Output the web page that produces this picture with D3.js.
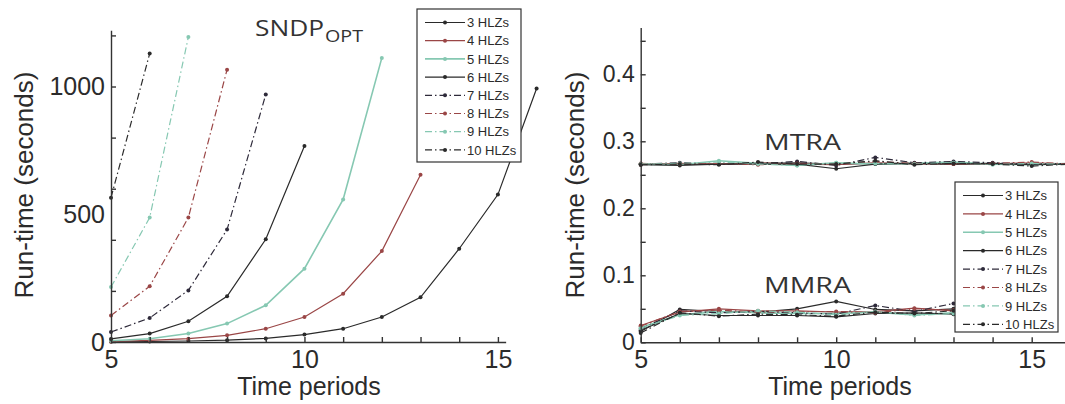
<!DOCTYPE html>
<html>
<head>
<meta charset="utf-8">
<script src="https://cdn.jsdelivr.net/npm/d3@7"></script>
<style>
    body { margin: 0; background: #fff; }
    svg { display: block; }
    text { font-family: 'Liberation Sans', Arial, sans-serif; fill: #2b2b2b; }
    .title { font-family: 'Open Sans', sans-serif; fill: #333; }
</style>
</head>
<body>
<div id="chartArea"></div>
<script>
// time periods (x) and series labels
var periods = [5, 6, 7, 8, 9, 10, 11, 12, 13, 14, 15, 16];
var hlzLabels = ['3 HLZs', '4 HLZs', '5 HLZs', '6 HLZs', '7 HLZs', '8 HLZs', '9 HLZs', '10 HLZs'];

// SNDP_OPT run-times (seconds), starting at period 5
var sndp3 = [1, 2, 4, 7, 14, 29, 52, 98, 175, 365, 577, 992];
var sndp4 = [2, 6, 13, 26, 52, 98, 189, 356, 655];
var sndp5 = [5, 13, 33, 72, 144, 287, 558, 1112];
var sndp6 = [12, 33, 81, 179, 402, 767];
var sndp7 = [39, 94, 202, 440, 969];
var sndp8 = [104, 218, 487, 1066];
var sndp9 = [215, 487, 1194];
var sndp10 = [565, 1129];

// MTRA run-times (seconds), periods 5..16
var mtra3 = [0.266, 0.266, 0.266, 0.267, 0.268, 0.266, 0.267, 0.267, 0.266, 0.267, 0.266, 0.267];
var mtra4 = [0.265, 0.267, 0.266, 0.268, 0.266, 0.265, 0.268, 0.266, 0.267, 0.266, 0.268, 0.266];
var mtra5 = [0.266, 0.265, 0.271, 0.267, 0.264, 0.268, 0.266, 0.267, 0.269, 0.266, 0.265, 0.267];
var mtra6 = [0.265, 0.264, 0.266, 0.266, 0.266, 0.259, 0.266, 0.267, 0.266, 0.267, 0.265, 0.266];
var mtra7 = [0.266, 0.268, 0.266, 0.266, 0.270, 0.264, 0.276, 0.268, 0.270, 0.268, 0.266, 0.267];
var mtra8 = [0.267, 0.266, 0.267, 0.265, 0.267, 0.266, 0.270, 0.267, 0.266, 0.267, 0.269, 0.266];
var mtra9 = [0.266, 0.267, 0.269, 0.266, 0.264, 0.268, 0.267, 0.266, 0.268, 0.265, 0.267, 0.265];
var mtra10 = [0.265, 0.266, 0.265, 0.269, 0.266, 0.266, 0.271, 0.265, 0.267, 0.266, 0.263, 0.266];

// MMRA run-times (seconds), periods 5..14
var mmra3 = [0.016, 0.049, 0.046, 0.045, 0.050, 0.061, 0.049, 0.047, 0.050, 0.048];
var mmra4 = [0.025, 0.045, 0.050, 0.047, 0.047, 0.045, 0.046, 0.051, 0.047, 0.046];
var mmra5 = [0.022, 0.041, 0.046, 0.044, 0.043, 0.043, 0.045, 0.041, 0.044, 0.045];
var mmra6 = [0.018, 0.043, 0.040, 0.040, 0.040, 0.038, 0.043, 0.044, 0.042, 0.044];
var mmra7 = [0.020, 0.047, 0.044, 0.046, 0.044, 0.042, 0.055, 0.046, 0.058, 0.050];
var mmra8 = [0.024, 0.046, 0.048, 0.045, 0.046, 0.046, 0.044, 0.050, 0.048, 0.047];
var mmra9 = [0.021, 0.040, 0.043, 0.047, 0.045, 0.041, 0.046, 0.040, 0.043, 0.044];
var mmra10 = [0.014, 0.044, 0.039, 0.042, 0.041, 0.039, 0.045, 0.043, 0.047, 0.045];

var leftTicksY = [0, 200, 400, 600, 800, 1000, 1200];
var leftLabelsY = [0, 500, 1000];
var rightTicksY = [0, 0.05, 0.1, 0.15, 0.2, 0.25, 0.3, 0.35, 0.4, 0.45];
var rightLabelsY = [0, 0.1, 0.2, 0.3, 0.4];
var xTicks = [5, 6, 7, 8, 9, 10, 11, 12, 13, 14, 15];
var xLabels = [5, 10, 15];

var colors = ['#2a2a2a', '#9a4646', '#86c8b2', '#2a2a2a', '#2e2a3a', '#9a4646', '#86c8b2', '#2a2a2a'];
var dashes = [null, null, null, null, '7,3,1.5,3', '7,3,1.5,3', '7,3,1.5,3', '7,3,1.5,3'];

var sndpSeries = [sndp3, sndp4, sndp5, sndp6, sndp7, sndp8, sndp9, sndp10];
var mtraSeries = [mtra3, mtra4, mtra5, mtra6, mtra7, mtra8, mtra9, mtra10];
var mmraSeries = [mmra3, mmra4, mmra5, mmra6, mmra7, mmra8, mmra9, mmra10];

var svg = d3.select('#chartArea').append('svg')
    .attr('width', 1065)
    .attr('height', 404);

function drawSeries(g, seriesList, x, y) {
    var line = d3.line()
        .x(function (d, i) { return x(periods[i]); })
        .y(function (d) { return y(d); });
    seriesList.forEach(function (vals, s) {
        g.append('path')
            .attr('d', line(vals))
            .attr('fill', 'none')
            .attr('stroke', colors[s])
            .attr('stroke-width', s == 2 ? 1.6 : 1.2)
            .attr('stroke-dasharray', dashes[s]);
        g.selectAll('.m' + s)
            .data(vals)
            .enter()
            .append('circle')
            .attr('cx', function (d, i) { return x(periods[i]); })
            .attr('cy', function (d) { return y(d); })
            .attr('r', 2)
            .attr('fill', colors[s]);
    });
}

function drawLegend(x0, y0, w, h, step) {
    var lg = svg.append('g');
    lg.append('rect')
        .attr('x', x0).attr('y', y0)
        .attr('width', w).attr('height', h)
        .attr('fill', '#fff')
        .attr('stroke', '#333')
        .attr('stroke-width', 1.2);
    hlzLabels.forEach(function (lab, s) {
        var yy = y0 + 13.5 + s * step;
        lg.append('line')
            .attr('x1', x0 + 8).attr('x2', x0 + 48)
            .attr('y1', yy).attr('y2', yy)
            .attr('stroke', colors[s])
            .attr('stroke-width', s == 2 ? 1.6 : 1.2)
            .attr('stroke-dasharray', dashes[s]);
        lg.append('circle')
            .attr('cx', x0 + 28).attr('cy', yy).attr('r', 2)
            .attr('fill', colors[s]);
        lg.append('text')
            .attr('x', x0 + 50).attr('y', yy)
            .attr('dy', '0.36em')
            .style('font-size', '13px')
            .text(lab);
    });
}

function drawAxes(x, y, xEnd, yTicks, yLabels, yFmt, yFont, xFont) {
    var xAxisScale = d3.scaleLinear().domain([5, xEnd]).range([x(5), x(xEnd)]);
    var base = y(0);
    svg.append('g')
        .attr('transform', 'translate(0,' + base + ')')
        .call(d3.axisBottom(xAxisScale).tickValues(xTicks).tickSize(-5).tickSizeOuter(0).tickFormat(''))
        .call(function (g) { g.selectAll('path, line').attr('stroke', '#333').attr('stroke-width', 1.4); });
    svg.append('g')
        .attr('transform', 'translate(0,' + base + ')')
        .call(d3.axisBottom(x).tickValues(xLabels).tickSize(0).tickPadding(8))
        .call(function (g) {
            g.select('.domain').remove();
            g.selectAll('text').style('font-size', xFont + 'px').attr('fill', '#2b2b2b');
        });
    svg.append('g')
        .attr('transform', 'translate(' + x(5) + ',0)')
        .call(d3.axisLeft(y).tickValues(yTicks).tickSize(-5).tickSizeOuter(0).tickFormat(''))
        .call(function (g) { g.selectAll('path, line').attr('stroke', '#333').attr('stroke-width', 1.4); });
    svg.append('g')
        .attr('transform', 'translate(' + (x(5) - 6) + ',0)')
        .call(d3.axisLeft(y).tickValues(yLabels).tickSize(0).tickPadding(0).tickFormat(yFmt))
        .call(function (g) {
            g.select('.domain').remove();
            g.selectAll('text').style('font-size', yFont + 'px').attr('fill', '#2b2b2b');
        });
}

// ---- left panel: SNDP_OPT
var xL = d3.scaleLinear().domain([5, 16]).range([111, 536.6]);
var yL = d3.scaleLinear().domain([0, 1220]).range([342, 30.3]);
var gL = svg.append('g');
drawSeries(gL, sndpSeries, xL, yL);
drawAxes(xL, yL, 15.2, leftTicksY, leftLabelsY, d3.format('d'), 25, 25);

svg.append('text').attr('class', 'title')
    .attr('x', 255).attr('y', 36)
    .attr('textLength', 69).attr('lengthAdjust', 'spacingAndGlyphs')
    .style('font-size', '22px')
    .text('SNDP');
svg.append('text').attr('class', 'title')
    .attr('x', 325).attr('y', 42)
    .attr('textLength', 38).attr('lengthAdjust', 'spacingAndGlyphs')
    .style('font-size', '17px')
    .text('OPT');

drawLegend(417, 9, 104, 153, 18.2);

// ---- right panel: MTRA / MMRA
var xR = d3.scaleLinear().domain([5, 16]).range([640.7, 1070.8]);
var yR = d3.scaleLinear().domain([0, 0.47]).range([342.3, 27.4]);
var gR = svg.append('g');
drawSeries(gR, mtraSeries, xR, yR);
drawSeries(gR, mmraSeries, xR, yR);
drawAxes(xR, yR, 16, rightTicksY, rightLabelsY, function (d) { return d == 0 ? '0' : d3.format('.1f')(d); }, 23, 25);

svg.append('text').attr('class', 'title')
    .attr('x', 764).attr('y', 150)
    .attr('textLength', 77).attr('lengthAdjust', 'spacingAndGlyphs')
    .style('font-size', '21px')
    .text('MTRA');
svg.append('text').attr('class', 'title')
    .attr('x', 764).attr('y', 293)
    .attr('textLength', 87).attr('lengthAdjust', 'spacingAndGlyphs')
    .style('font-size', '21px')
    .text('MMRA');

drawLegend(955, 182, 103, 150, 18.4);

// ---- axis titles
[[25, xL], [576, xR]].forEach(function (p) {
    svg.append('text')
        .attr('transform', 'translate(' + (p[0] + 8) + ',185) rotate(-90)')
        .attr('text-anchor', 'middle')
        .style('font-size', '26px')
        .text('Run-time (seconds)');
});
svg.append('text')
    .attr('x', 309).attr('y', 395)
    .attr('text-anchor', 'middle')
    .style('font-size', '25px')
    .text('Time periods');
svg.append('text')
    .attr('x', 840).attr('y', 395)
    .attr('text-anchor', 'middle')
    .style('font-size', '25px')
    .text('Time periods');
</script>
</body>
</html>
